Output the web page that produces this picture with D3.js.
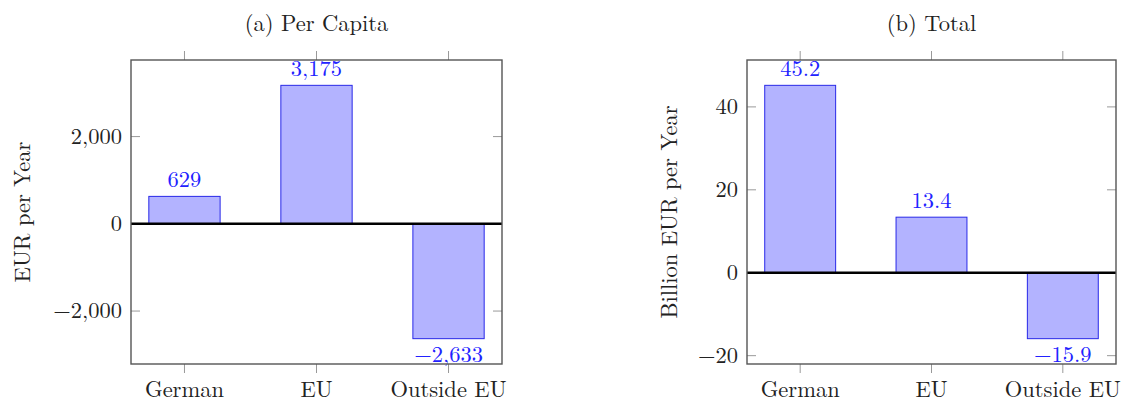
<!DOCTYPE html>
<html>
<head>
<meta charset="utf-8">
<script src="https://cdn.jsdelivr.net/npm/d3@7"></script>
<style>
  html, body { margin: 0; padding: 0; background: #fff; }
</style>
</head>
<body>
<svg id="chart" width="1125" height="404"></svg>
<script>
// ---- data ----
const categories = ["German", "EU", "Outside EU"];
const perCapitaValues = [629, 3175, -2633];
const totalValues = [45.2, 13.4, -15.9];
const perCapitaTicks = [-2000, 0, 2000];
const totalTicks = [-20, 0, 20, 40];
const titles = ["(a) Per Capita", "(b) Total"];
const yLabels = ["EUR per Year", "Billion EUR per Year"];

// ---- layout ----
(function () {
const svg = d3.select("#chart");
const FONT = "'Latin Modern Roman', 'Liberation Serif', serif";
const FS = 22.5;
const panels = [
  { left: 131, right: 502, values: perCapitaValues, ticks: perCapitaTicks,
    tickFmt: d3.format(","), valFmt: d3.format(","), title: titles[0], ylabel: yLabels[0], ylabelX: 30 },
  { left: 747, right: 1116, values: totalValues, ticks: totalTicks,
    tickFmt: d3.format("d"), valFmt: d3.format(".1f"), title: titles[1], ylabel: yLabels[1], ylabelX: 677 }
];
const plotTop = 60, plotBottom = 364;
const fillC = "#b3b3ff", strokeC = "#2828e8", labelC = "#2222ff", textC = "#222";

panels.forEach(p => {
  const g = svg.append("g");
  const x = d3.scalePoint().domain(categories).range([p.left, p.right]).padding(0.405);
  const mn = d3.min(p.values), mx = d3.max(p.values), rng = mx - mn;
  const y = d3.scaleLinear().domain([mn - 0.1 * rng, mx + 0.1 * rng]).range([plotBottom, plotTop]);
  const bw = x.step() * 0.54;

  g.selectAll("line.yl").data(p.ticks).join("line")
    .attr("x1", p.left).attr("x2", p.left + 9)
    .attr("y1", d => y(d)).attr("y2", d => y(d))
    .attr("stroke", "#999").attr("stroke-width", 1);
  g.selectAll("line.yr").data(p.ticks).join("line")
    .attr("x1", p.right - 9).attr("x2", p.right)
    .attr("y1", d => y(d)).attr("y2", d => y(d))
    .attr("stroke", "#999").attr("stroke-width", 1);
  categories.forEach(c => {
    g.append("line").attr("x1", x(c)).attr("x2", x(c)).attr("y1", plotTop - 9).attr("y2", plotTop)
      .attr("stroke", "#999").attr("stroke-width", 1);
    g.append("line").attr("x1", x(c)).attr("x2", x(c)).attr("y1", plotBottom).attr("y2", plotBottom + 9)
      .attr("stroke", "#999").attr("stroke-width", 1);
  });

  g.selectAll("rect.bar").data(p.values).join("rect")
    .attr("x", (d, i) => x(categories[i]) - bw / 2)
    .attr("width", bw)
    .attr("y", d => y(Math.max(0, d)))
    .attr("height", d => Math.abs(y(d) - y(0)))
    .attr("fill", fillC).attr("stroke", strokeC).attr("stroke-width", 1);

  g.selectAll("text.val").data(p.values).join("text")
    .attr("x", (d, i) => x(categories[i]))
    .attr("y", d => d >= 0 ? y(d) - 9 : y(d) + 8 + 15.5)
    .attr("text-anchor", "middle")
    .attr("font-family", FONT).attr("font-size", FS).attr("fill", labelC)
    .text(d => p.valFmt(d));

  g.append("line").attr("x1", p.left).attr("x2", p.right)
    .attr("y1", y(0)).attr("y2", y(0)).attr("stroke", "#000").attr("stroke-width", 2.5);

  g.append("rect").attr("x", p.left).attr("y", plotTop)
    .attr("width", p.right - p.left).attr("height", plotBottom - plotTop)
    .attr("fill", "none").attr("stroke", "#555").attr("stroke-width", 1.4);

  g.selectAll("text.yt").data(p.ticks).join("text")
    .attr("x", p.left - 9).attr("y", d => y(d)).attr("dy", "0.33em")
    .attr("text-anchor", "end")
    .attr("font-family", FONT).attr("font-size", FS).attr("fill", textC)
    .text(d => p.tickFmt(d));

  g.selectAll("text.xt").data(categories).join("text")
    .attr("x", d => x(d)).attr("y", plotBottom + 33)
    .attr("text-anchor", "middle")
    .attr("font-family", FONT).attr("font-size", FS).attr("fill", textC)
    .text(d => d);

  g.append("text").attr("x", (p.left + p.right) / 2).attr("y", 31)
    .attr("text-anchor", "middle")
    .attr("font-family", FONT).attr("font-size", FS).attr("fill", textC)
    .text(p.title);

  g.append("text")
    .attr("transform", `translate(${p.ylabelX},${(plotTop + plotBottom) / 2}) rotate(-90)`)
    .attr("text-anchor", "middle")
    .attr("font-family", FONT).attr("font-size", FS).attr("fill", textC)
    .text(p.ylabel);
});
})();
</script>
</body>
</html>
